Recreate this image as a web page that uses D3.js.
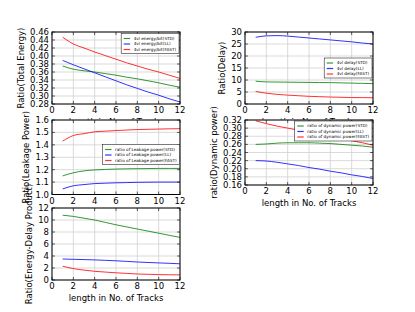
<!DOCTYPE html>
<html>
<head>
<meta charset="utf-8">
<script src="https://cdn.jsdelivr.net/npm/d3@7"></script>
<style>
  body { margin: 0; background: #fff; }
  svg { display: block; font-family: "DejaVu Sans", sans-serif; }
</style>
</head>
<body>
<script>
// track lengths
var xs = [1, 2, 3, 4, 5, 6, 7, 8, 9, 10, 11, 12];
var xTicks = [0, 2, 4, 6, 8, 10, 12];

// total energy ratio
var energySTD  = [0.375, 0.367, 0.363, 0.360, 0.356, 0.352, 0.347, 0.343, 0.338, 0.333, 0.327, 0.322];
var energyLL   = [0.389, 0.378, 0.368, 0.358, 0.348, 0.338, 0.328, 0.319, 0.310, 0.302, 0.293, 0.285];
var energyFAST = [0.447, 0.430, 0.420, 0.410, 0.401, 0.392, 0.383, 0.375, 0.367, 0.360, 0.352, 0.344];

// delay ratio
var delaySTD  = [9.5, 9.2, 9.15, 9.1, 9.05, 9.0, 8.95, 8.9, 8.8, 8.7, 8.6, 8.5];
var delayLL   = [27.8, 28.4, 28.5, 28.3, 27.9, 27.5, 27.1, 26.7, 26.3, 25.9, 25.4, 25.0];
var delayFAST = [5.2, 4.5, 4.0, 3.7, 3.45, 3.2, 3.05, 2.9, 2.8, 2.7, 2.65, 2.6];

// leakage power ratio
var leakSTD  = [1.15, 1.175, 1.19, 1.198, 1.202, 1.205, 1.207, 1.208, 1.209, 1.21, 1.21, 1.21];
var leakLL   = [1.045, 1.07, 1.08, 1.088, 1.091, 1.094, 1.096, 1.098, 1.099, 1.1, 1.1, 1.1];
var leakFAST = [1.43, 1.475, 1.49, 1.505, 1.51, 1.515, 1.519, 1.523, 1.525, 1.527, 1.529, 1.53];

// dynamic power ratio
var dynSTD  = [0.260, 0.261, 0.263, 0.264, 0.264, 0.264, 0.263, 0.262, 0.260, 0.258, 0.256, 0.253];
var dynLL   = [0.220, 0.219, 0.216, 0.212, 0.208, 0.203, 0.199, 0.194, 0.190, 0.185, 0.181, 0.176];
var dynFAST = [0.318, 0.311, 0.305, 0.300, 0.295, 0.290, 0.285, 0.280, 0.275, 0.269, 0.264, 0.258];

// energy-delay product ratio
var edpSTD  = [10.8, 10.6, 10.3, 10.0, 9.6, 9.2, 8.85, 8.5, 8.15, 7.8, 7.45, 7.1];
var edpLL   = [3.5, 3.45, 3.4, 3.35, 3.28, 3.2, 3.1, 3.0, 2.92, 2.85, 2.78, 2.7];
var edpFAST = [2.3, 1.9, 1.65, 1.45, 1.32, 1.2, 1.1, 1.0, 0.95, 0.9, 0.87, 0.85];

var colors = ["#008000", "#0000ff", "#ff0000"];

var svg = d3.select("body").append("svg")
  .attr("width", 415)
  .attr("height", 312);

var panels = [
  { box: [52, 180, 32, 104], y: [0.28, 0.46], step: 0.02, fmt: ".2f", ylabel: "Ratio(Total Energy)",
    series: [energySTD, energyLL, energyFAST],
    names: ["4vl energy/bit(STD)", "4vl energy/bit(LL)", "4vl energy/bit(FAST)"], leg: [179, 33.5] },
  { box: [245, 373, 32, 104], y: [0, 30], step: 5, fmt: "d", ylabel: "Ratio(Delay)",
    series: [delaySTD, delayLL, delayFAST],
    names: ["4vl delay(STD)", "4vl delay(LL)", "4vl delay(FAST)"], leg: [372, 58] },
  { box: [52, 180, 120, 194.5], y: [1.0, 1.6], step: 0.1, fmt: ".1f", ylabel: "Ratio(Leakage Power)",
    series: [leakSTD, leakLL, leakFAST],
    names: ["ratio of Leakage power(STD)", "ratio of Leakage power(LL)", "ratio of Leakage power(FAST)"], leg: [179.5, 144.5] },
  { box: [245, 373, 120, 185], y: [0.16, 0.32], step: 0.02, fmt: ".2f", ylabel: "ratio(Dynamic power)",
    series: [dynSTD, dynLL, dynFAST],
    names: ["ratio of dynamic power(STD)", "ratio of dynamic power(LL)", "ratio of dynamic power(FAST)"], leg: [372, 121] },
  { box: [52, 180, 208, 280], y: [0, 12], step: 2, fmt: "d", ylabel: "Ratio(Energy-Delay Product)",
    series: [edpSTD, edpLL, edpFAST], names: null }
];

panels.forEach(function(p) {
  var L = p.box[0], R = p.box[1], T = p.box[2], B = p.box[3];
  var x = d3.scaleLinear().domain([0, 12]).range([L, R]);
  var y = d3.scaleLinear().domain(p.y).range([B, T]);
  var yTicks = d3.range(p.y[0], p.y[1] + p.step / 2, p.step);
  var g = svg.append("g");

  // white background covers the previous panel's labels
  g.append("rect").attr("x", L).attr("y", T).attr("width", R - L).attr("height", B - T)
    .attr("fill", "#fff");

  // grid
  g.selectAll(".gx").data(xTicks).enter().append("line")
    .attr("x1", function(d) { return x(d); }).attr("x2", function(d) { return x(d); })
    .attr("y1", T).attr("y2", B).attr("stroke", "#d0d0d0").attr("stroke-width", 0.8);
  g.selectAll(".gy").data(yTicks).enter().append("line")
    .attr("x1", L).attr("x2", R)
    .attr("y1", function(d) { return y(d); }).attr("y2", function(d) { return y(d); })
    .attr("stroke", "#d0d0d0").attr("stroke-width", 0.8);

  // lines
  var line = d3.line()
    .x(function(d, i) { return x(xs[i]); })
    .y(function(d) { return y(d); })
    .curve(d3.curveMonotoneX);
  p.series.forEach(function(s, i) {
    g.append("path").attr("d", line(s)).attr("fill", "none")
      .attr("stroke", colors[i]).attr("stroke-width", 1).attr("stroke-opacity", 0.8);
  });

  // frame
  g.append("rect").attr("x", L).attr("y", T).attr("width", R - L).attr("height", B - T)
    .attr("fill", "none").attr("stroke", "#000").attr("stroke-width", 1);

  // inward ticks
  xTicks.forEach(function(d) {
    g.append("line").attr("x1", x(d)).attr("x2", x(d)).attr("y1", B).attr("y2", B - 3).attr("stroke", "#000").attr("stroke-width", 0.6);
    g.append("line").attr("x1", x(d)).attr("x2", x(d)).attr("y1", T).attr("y2", T + 3).attr("stroke", "#000").attr("stroke-width", 0.6);
  });
  yTicks.forEach(function(d) {
    g.append("line").attr("x1", L).attr("x2", L + 3).attr("y1", y(d)).attr("y2", y(d)).attr("stroke", "#000").attr("stroke-width", 0.6);
    g.append("line").attr("x1", R).attr("x2", R - 3).attr("y1", y(d)).attr("y2", y(d)).attr("stroke", "#000").attr("stroke-width", 0.6);
  });

  // tick labels
  g.selectAll(".xl").data(xTicks).enter().append("text")
    .attr("x", function(d) { return x(d); }).attr("y", B + 9)
    .attr("text-anchor", "middle").attr("font-size", 8.5)
    .text(function(d) { return d; });
  var fmt = d3.format(p.fmt);
  var maxW = 0;
  g.selectAll(".yl").data(yTicks).enter().append("text")
    .attr("x", L - 3).attr("y", function(d) { return y(d) + 3; })
    .attr("text-anchor", "end").attr("font-size", 8.5)
    .text(function(d) { return fmt(d); })
    .each(function() { maxW = Math.max(maxW, this.getBBox().width); });

  // axis labels
  g.append("text").attr("x", (L + R) / 2).attr("y", B + 21)
    .attr("text-anchor", "middle").attr("font-size", 8.5)
    .text("length in No. of Tracks");
  var cx = L - 3 - maxW - 9;
  g.append("text")
    .attr("transform", "translate(" + (cx + 3) + "," + ((T + B) / 2) + ") rotate(-90)")
    .attr("text-anchor", "middle").attr("font-size", 8.5)
    .text(p.ylabel);

  // legend
  if (p.names) {
    var lg = g.append("g");
    var box = lg.append("rect").attr("fill", "#fff").attr("stroke", "#000").attr("stroke-width", 0.5);
    var tw = 0;
    p.names.forEach(function(n, i) {
      var t = lg.append("text").attr("x", 12.5).attr("y", 6.3 + i * 5.5)
        .attr("font-size", 4.2).text(n);
      tw = Math.max(tw, t.node().getBBox().width);
      lg.append("line").attr("x1", 2.5).attr("x2", 9).attr("y1", 5 + i * 5.5).attr("y2", 5 + i * 5.5)
        .attr("stroke", colors[i]).attr("stroke-width", 1.2).attr("stroke-opacity", 0.8);
    });
    var w = 12.5 + tw + 2.5;
    box.attr("width", w).attr("height", 20);
    lg.attr("transform", "translate(" + (p.leg[0] - w) + "," + p.leg[1] + ")");
  }
});
</script>
</body>
</html>
